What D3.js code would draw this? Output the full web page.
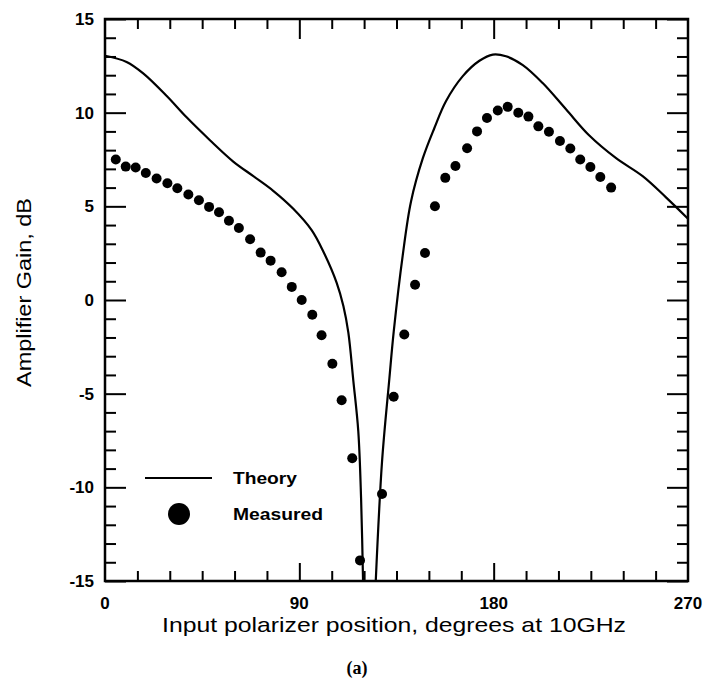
<!DOCTYPE html>
<html>
<head>
<meta charset="utf-8">
<script src="https://cdn.jsdelivr.net/npm/d3@7"></script>
<style>
  body { margin: 0; background: #fff; }
  svg { display: block; }
</style>
</head>
<body>
<svg class="main" width="716" height="679"></svg>
<script>
// theory curve (polarizer angle in degrees, gain in dB)
var theoryAngle = [0, 10, 17.7, 28.6, 37.8, 48.6, 59.4, 68.7, 77.9, 87.2, 95.7, 101.1, 107.3, 110.4, 112.7, 115, 117.3, 118.6, 119.6,
  125.2, 128.3, 131.7, 133.7, 137.9, 141.7, 147.2, 152.5, 157.9, 165.7, 173.4, 179.6, 185.7, 193.5, 202.7, 213.5, 224.3, 236.7, 249, 259.8, 270]
var theoryGain = [13.04, 12.71, 12.1, 10.89, 9.75, 8.53, 7.39, 6.61, 5.83, 4.87, 3.73, 2.59, 0.92, -0.32, -1.74, -4.3, -7.0, -10.6, -15.5,
  -15.5, -8.63, -4.19, -1.7, 2.4, 5.25, 7.57, 9.17, 10.61, 11.95, 12.77, 13.1, 13.01, 12.54, 11.58, 10.18, 8.78, 7.57, 6.61, 5.48, 4.34]
var nullAngle = 122

// measured points
var measuredAngle = [5, 9.6, 14.2, 18.9, 23.9, 28.9, 33.5, 38.6, 43.5, 48.2, 52.8, 57.4, 62, 67.2, 72.1, 76.7, 81.8, 86.5, 91.1, 96, 100.3,
  105.3, 109.6, 114.5, 118.1, 128.3, 133.7, 138.6, 143.6, 148.2, 152.8, 157.6, 162.3, 167.7, 172.3, 176.9, 181.9, 186.5, 191.4, 196.1,
  200.7, 205.6, 210.7, 215.5, 220.1, 224.8, 229.4, 234.4]
var measuredGain = [7.5, 7.12, 7.07, 6.78, 6.49, 6.23, 5.97, 5.63, 5.32, 4.97, 4.68, 4.23, 3.84, 3.24, 2.53, 2.1, 1.48, 0.7, 0, -0.79, -1.88,
  -3.4, -5.35, -8.45, -13.9, -10.36, -5.16, -1.84, 0.81, 2.51, 5, 6.52, 7.15, 8.1, 9, 9.72, 10.12, 10.31, 10.0, 9.79,
  9.27, 8.98, 8.49, 8.09, 7.5, 7.1, 6.57, 6.0]

var xTicks = [0, 90, 180, 270]
var yTicks = [-15, -10, -5, 0, 5, 10, 15]

var svg = d3.select('svg.main')
// plot frame in pixels
const margin = {left: 105, right: 688, top: 19, bottom: 581}

var x = d3.scaleLinear().domain([0, 270]).range([margin.left, margin.right])
var y = d3.scaleLinear().domain([-15, 15]).range([margin.bottom, margin.top])

var font = '"Liberation Sans", Arial, sans-serif'

svg.append('clipPath').attr('id', 'plot')
  .append('rect')
  .attr('x', margin.left).attr('y', margin.top)
  .attr('width', margin.right - margin.left).attr('height', margin.bottom - margin.top)

// inward ticks on all four sides
function ticks(axis, g) {
  g.call(axis)
  g.select('.domain').remove()
  g.selectAll('text').remove()
  g.selectAll('line').attr('stroke', '#000').attr('stroke-width', 2)
}
var minorX = d3.range(0, 271, 15).filter(d => d % 90 != 0)
var minorY = d3.range(-15, 16, 1).filter(d => d % 5 != 0)

svg.append('g').attr('transform', `translate(0,${margin.bottom})`)
  .call(g => ticks(d3.axisBottom(x).tickValues(minorX).tickSize(-10), g))
svg.append('g').attr('transform', `translate(0,${margin.bottom})`)
  .call(g => ticks(d3.axisBottom(x).tickValues([90, 180]).tickSize(-18), g))
svg.append('g').attr('transform', `translate(0,${margin.top})`)
  .call(g => ticks(d3.axisTop(x).tickValues(minorX).tickSize(-10), g))
svg.append('g').attr('transform', `translate(0,${margin.top})`)
  .call(g => ticks(d3.axisTop(x).tickValues([90, 180]).tickSize(-20), g))
svg.append('g').attr('transform', `translate(${margin.left},0)`)
  .call(g => ticks(d3.axisLeft(y).tickValues(minorY).tickSize(-11), g))
svg.append('g').attr('transform', `translate(${margin.left},0)`)
  .call(g => ticks(d3.axisLeft(y).tickValues(yTicks).tickSize(-21), g))
svg.append('g').attr('transform', `translate(${margin.right},0)`)
  .call(g => ticks(d3.axisRight(y).tickValues(minorY).tickSize(-11), g))
svg.append('g').attr('transform', `translate(${margin.right},0)`)
  .call(g => ticks(d3.axisRight(y).tickValues(yTicks).tickSize(-21), g))

// frame
svg.append('rect')
  .attr('x', margin.left).attr('y', margin.top)
  .attr('width', margin.right - margin.left).attr('height', margin.bottom - margin.top)
  .attr('fill', 'none').attr('stroke', '#000').attr('stroke-width', 2.5)

// tick labels
svg.append('g').selectAll('text')
  .data(xTicks).join('text')
  .attr('x', d => x(d))
  .attr('y', margin.bottom + 28)
  .attr('text-anchor', 'middle')
  .attr('font-family', font).attr('font-weight', 'bold').attr('font-size', 17)
  .text(d => d)
svg.append('g').selectAll('text')
  .data(yTicks).join('text')
  .attr('x', margin.left - 11)
  .attr('y', d => y(d) + 6)
  .attr('text-anchor', 'end')
  .attr('font-family', font).attr('font-weight', 'bold').attr('font-size', 17)
  .text(d => d)

// axis titles
svg.append('text')
  .attr('x', 162).attr('y', 632)
  .attr('textLength', 464).attr('lengthAdjust', 'spacingAndGlyphs')
  .attr('font-family', font).attr('font-size', 21)
  .text('Input polarizer position, degrees at 10GHz')
svg.append('text')
  .attr('transform', 'translate(31,387) rotate(-90)')
  .attr('textLength', 189).attr('lengthAdjust', 'spacingAndGlyphs')
  .attr('font-family', font).attr('font-size', 21)
  .text('Amplifier Gain, dB')
svg.append('text')
  .attr('x', 357).attr('y', 674)
  .attr('text-anchor', 'middle')
  .attr('font-family', '"Liberation Serif", serif').attr('font-weight', 'bold').attr('font-size', 18)
  .text('(a)')

// theory line, two branches either side of the null
var theory = theoryAngle.map((a, i) => ({a: a, g: theoryGain[i]}))
var branches = [theory.filter(d => d.a < nullAngle), theory.filter(d => d.a > nullAngle)]
var line = d3.line().x(d => x(d.a)).y(d => y(d.g)).curve(d3.curveCatmullRom.alpha(0.5))
svg.append('g').attr('clip-path', 'url(#plot)')
  .selectAll('path')
  .data(branches).join('path')
  .attr('d', line)
  .attr('fill', 'none').attr('stroke', '#000').attr('stroke-width', 2.2)

// measured dots
var measured = measuredAngle.map((a, i) => ({a: a, g: measuredGain[i]}))
svg.append('g').selectAll('circle')
  .data(measured).join('circle')
  .attr('cx', d => x(d.a))
  .attr('cy', d => y(d.g))
  .attr('r', 5)
  .attr('fill', '#000')

// legend
svg.append('line')
  .attr('x1', 145).attr('x2', 212).attr('y1', 478).attr('y2', 478)
  .attr('stroke', '#000').attr('stroke-width', 2)
svg.append('circle')
  .attr('cx', 179).attr('cy', 514).attr('r', 11).attr('fill', '#000')
svg.append('text')
  .attr('x', 233).attr('y', 484)
  .attr('textLength', 64).attr('lengthAdjust', 'spacingAndGlyphs')
  .attr('font-family', font).attr('font-weight', 'bold').attr('font-size', 17)
  .text('Theory')
svg.append('text')
  .attr('x', 233).attr('y', 520)
  .attr('textLength', 90).attr('lengthAdjust', 'spacingAndGlyphs')
  .attr('font-family', font).attr('font-weight', 'bold').attr('font-size', 17)
  .text('Measured')
</script>
</body>
</html>
